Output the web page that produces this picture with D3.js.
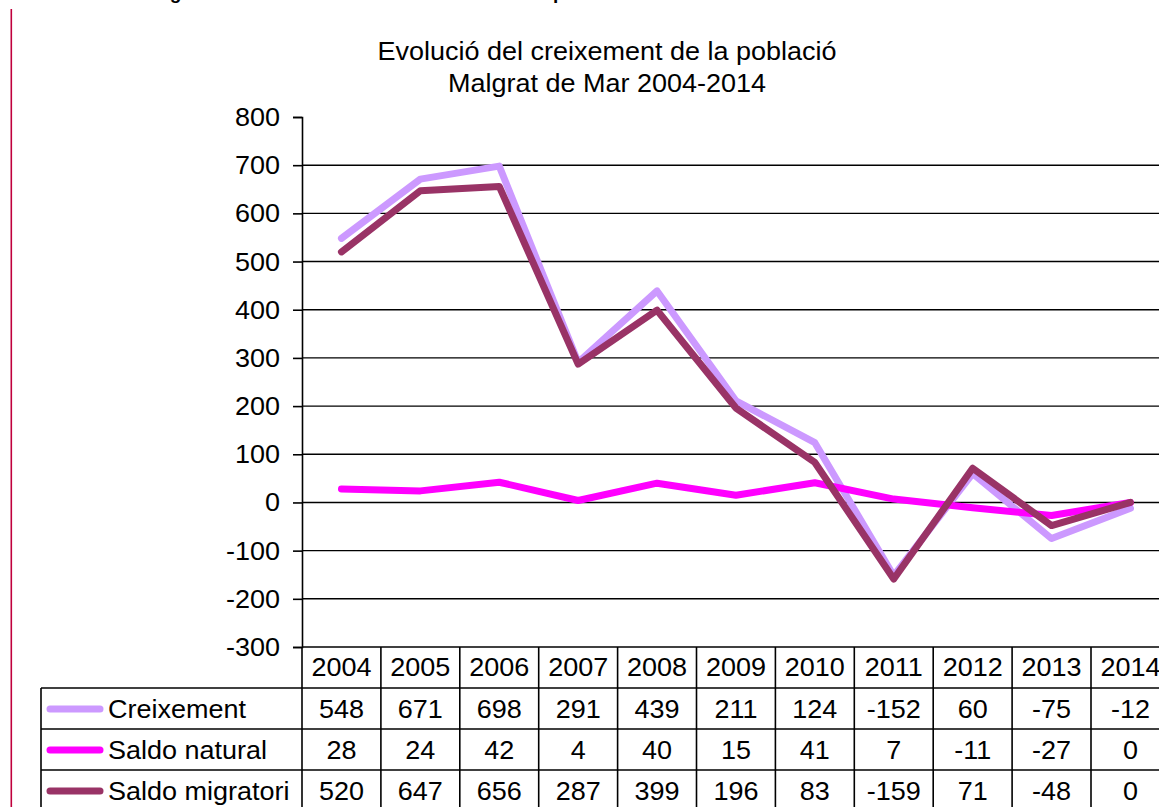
<!DOCTYPE html>
<html lang="ca">
<head>
<meta charset="utf-8">
<title>Evolució del creixement de la població</title>
<script src="https://d3js.org/d3.v7.min.js"></script>
<style>
  html, body { margin:0; padding:0; background:#fff; overflow:hidden; }
  svg { display:block; font-family:"Liberation Sans", Arial, sans-serif; }
</style>
</head>
<body>
<svg width="1159" height="807"></svg>
<script>
// data
var years = ["2004","2005","2006","2007","2008","2009","2010","2011","2012","2013","2014"];
var seriesNames = ["Creixement", "Saldo natural", "Saldo migratori"];
var creixement = [548, 671, 698, 291, 439, 211, 124, -152, 60, -75, -12];
var saldoNatural = [28, 24, 42, 4, 40, 15, 41, 7, -11, -27, 0];
var saldoMigratori = [520, 647, 656, 287, 399, 196, 83, -159, 71, -48, 0];
var yTicks = [800, 700, 600, 500, 400, 300, 200, 100, 0, -100, -200, -300];
var colors = ["#cc99ff", "#ff00ff", "#993366"];

var series = [creixement, saldoNatural, saldoMigratori];

var svg = d3.select("svg");
var sx = 1.08;   // text in the original is a bit wide
var fs = 25;

function txt(sel, x, y, s, anchor, size, weight) {
    sel.append("g")
        .attr("transform", "translate(" + x + "," + y + ") scale(" + sx + ",1)")
        .append("text")
        .attr("text-anchor", anchor || "start")
        .attr("font-size", size || fs)
        .attr("font-weight", weight || "normal")
        .attr("fill", "#000")
        .text(s);
}

// page bits around the chart (heading above is cut off in the original)
svg.append("rect")
    .attr("x", 10.5).attr("y", 9).attr("width", 1.6).attr("height", 798)
    .attr("fill", "#c0003c");
svg.append("text")
    .attr("x", 138).attr("y", -1)
    .attr("font-size", 19).attr("font-weight", "bold")
    .text("Malgrat de Mar: evolució del creixement de la població");

// title
txt(svg, 607, 60, "Evolució del creixement de la població", "middle");
txt(svg, 607, 92, "Malgrat de Mar 2004-2014", "middle");

// scales
var left = 302, colW = 78.9;
var x = d3.scaleBand().domain(years).range([left, left + colW * years.length]);
var y = d3.scaleLinear().domain([-300, 800]).range([647, 117]);

// gridlines
svg.append("g").selectAll("line")
    .data(yTicks.filter(function(d) { return d < 800; }))
    .enter().append("line")
    .attr("x1", left).attr("x2", 1159)
    .attr("y1", function(d) { return y(d); })
    .attr("y2", function(d) { return y(d); })
    .attr("stroke", "#000").attr("stroke-width", 1.4);

// y axis
var yAxis = svg.append("g")
    .attr("transform", "translate(" + left + ",0)")
    .call(d3.axisLeft(y).tickValues(yTicks).tickSize(9).tickPadding(0).tickFormat(function() { return ""; }));
yAxis.select(".domain").attr("stroke", "#000").attr("stroke-width", 1.6);
yAxis.selectAll(".tick line").attr("stroke", "#000").attr("stroke-width", 1.6);
yTicks.forEach(function(t) {
    txt(svg, 280, y(t) + 9, String(t), "end");
});

// lines
var line = d3.line()
    .x(function(d, i) { return x(years[i]) + x.bandwidth() / 2; })
    .y(function(d) { return y(d); });

series.forEach(function(s, k) {
    svg.append("path")
        .datum(s)
        .attr("d", line)
        .attr("fill", "none")
        .attr("stroke", colors[k])
        .attr("stroke-width", 7)
        .attr("stroke-linejoin", "round")
        .attr("stroke-linecap", "round");
});

// data table
var rowTop = 647, rowH = 41, legLeft = 41;
var tbl = svg.append("g");
var rowY = [rowTop + rowH, rowTop + 2 * rowH, rowTop + 3 * rowH];

// horizontal rules
rowY.forEach(function(ry) {
    tbl.append("line")
        .attr("x1", legLeft).attr("x2", 1159)
        .attr("y1", ry).attr("y2", ry)
        .attr("stroke", "#000").attr("stroke-width", 1.6);
});
tbl.append("line")
    .attr("x1", legLeft).attr("x2", legLeft)
    .attr("y1", rowY[0]).attr("y2", 807)
    .attr("stroke", "#000").attr("stroke-width", 1.6);
years.forEach(function(yr) {
    tbl.append("line")
        .attr("x1", x(yr)).attr("x2", x(yr))
        .attr("y1", rowTop).attr("y2", 807)
        .attr("stroke", "#000").attr("stroke-width", 1.6);
    txt(tbl, x(yr) + x.bandwidth() / 2, rowTop + 29, yr, "middle");
});

// rows
series.forEach(function(s, k) {
    var ry = rowY[k];
    tbl.append("line")
        .attr("x1", 50).attr("x2", 100)
        .attr("y1", ry + 21).attr("y2", ry + 21)
        .attr("stroke", colors[k]).attr("stroke-width", 7)
        .attr("stroke-linecap", "round");
    txt(tbl, 108, ry + 30, seriesNames[k], "start");
    s.forEach(function(v, i) {
        txt(tbl, x(years[i]) + x.bandwidth() / 2, ry + 30, String(v), "middle");
    });
});
</script>
</body>
</html>
